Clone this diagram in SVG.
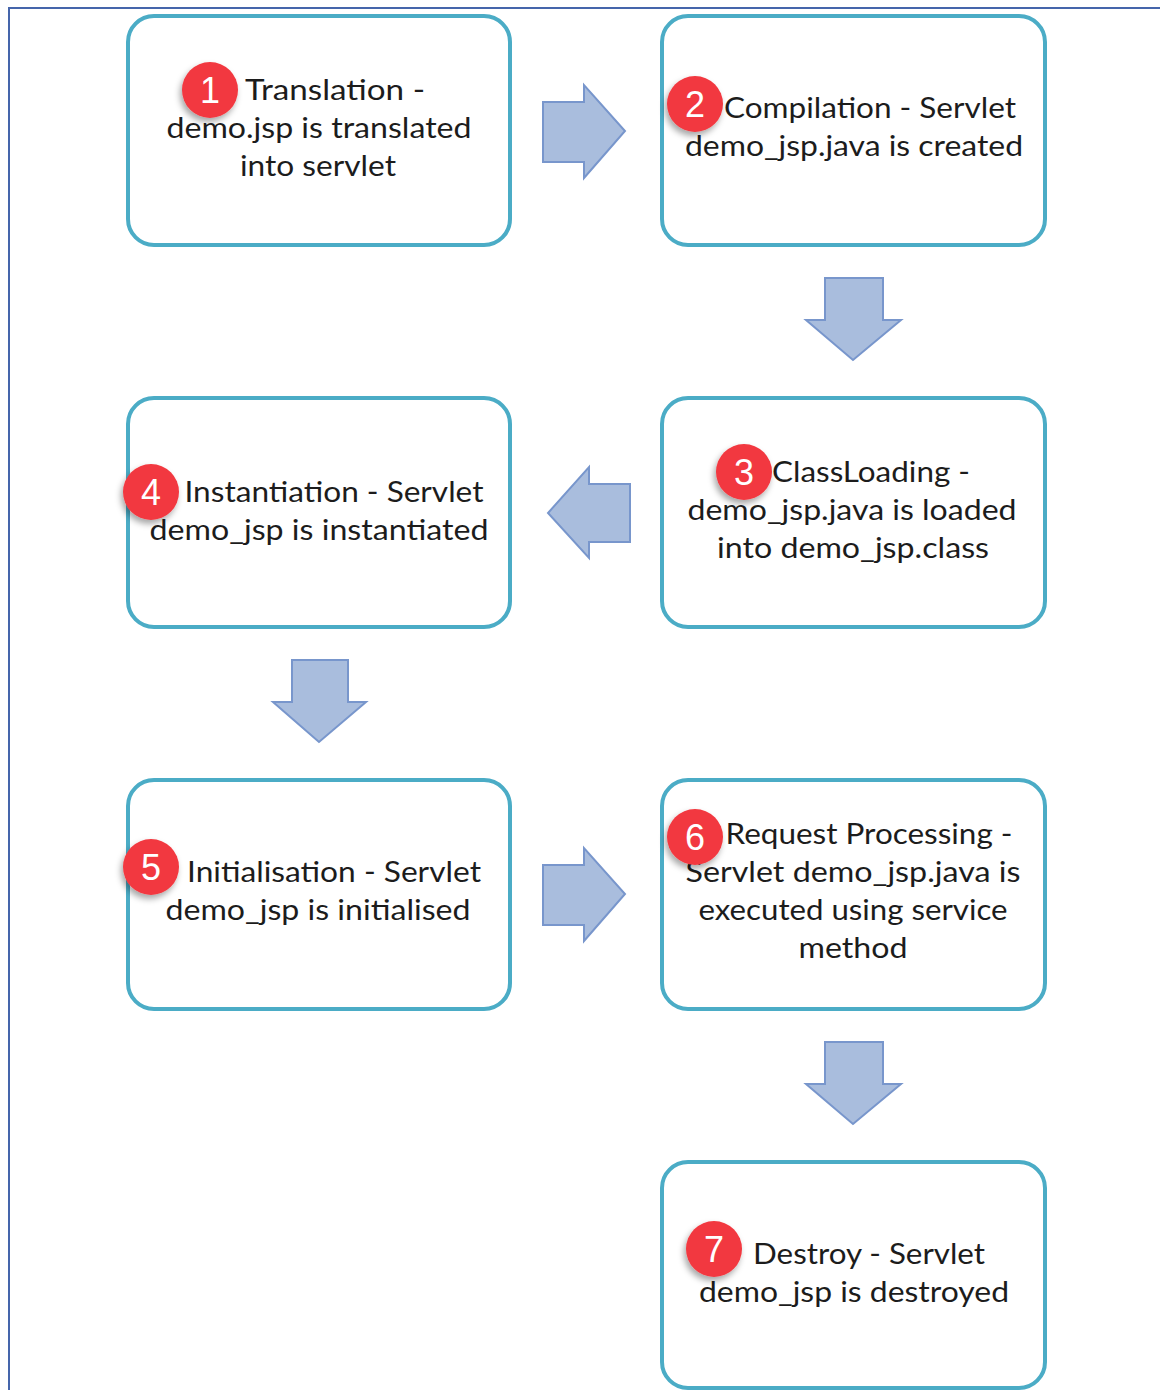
<svg xmlns="http://www.w3.org/2000/svg" width="1160" height="1390" viewBox="0 0 1160 1390">
<defs>
<style>
.box{fill:#ffffff;stroke:#4bacc6;stroke-width:4}
.arr{fill:#a9bddd;stroke:#7896cc;stroke-width:2;stroke-linejoin:miter}
.t{font-family:Lato,"Liberation Sans",sans-serif;font-size:29px;fill:#1c1c1c;text-anchor:middle}
.bc{fill:#f2383f}
.bn{font-family:"Liberation Sans",Arial,sans-serif;font-size:36px;fill:#ffffff;text-anchor:middle}
</style>
<filter id="sh" x="-50%" y="-50%" width="200%" height="200%">
<feDropShadow dx="-2" dy="4" stdDeviation="3" flood-color="#000" flood-opacity="0.35"/>
</filter>
</defs>
<rect width="1160" height="1390" fill="#ffffff"/>
<path d="M9 1390 V8 H1160" fill="none" stroke="#4565ab" stroke-width="2"/>

<g id="connectors">
<path class="arr" d="M543 102 H584 V85 L625 131 L584 178 V162 H543 Z"/>
<path class="arr" d="M825 278 H883 V320 H901 L853 360 L806 320 H825 Z"/>
<path class="arr" d="M630 484 H589 V467 L548 513 L589 558 V542 H630 Z"/>
<path class="arr" d="M292 660 H348 V702 H366 L319 742 L273 702 H292 Z"/>
<path class="arr" d="M543 865 H584 V848 L625 894 L584 941 V925 H543 Z"/>
<path class="arr" d="M825 1042 H883 V1084 H901 L853 1124 L806 1084 H825 Z"/>
</g>

<g id="node1">
<rect class="box" x="128" y="16" width="382" height="229" rx="26"/>
<text class="t" x="335" y="100" textLength="180" lengthAdjust="spacingAndGlyphs">Translation  -</text>
<text class="t" x="319" y="138" textLength="305" lengthAdjust="spacingAndGlyphs">demo.jsp is translated</text>
<text class="t" x="318" y="176" textLength="156" lengthAdjust="spacingAndGlyphs">into servlet</text>
<circle class="bc" cx="210" cy="90" r="28" filter="url(#sh)"/>
<text class="bn" x="210" y="103">1</text>
</g>

<g id="node2">
<rect class="box" x="662" y="16" width="383" height="229" rx="26"/>
<text class="t" x="870" y="118" textLength="292" lengthAdjust="spacingAndGlyphs">Compilation - Servlet</text>
<text class="t" x="854" y="156" textLength="338" lengthAdjust="spacingAndGlyphs">demo_jsp.java is created</text>
<circle class="bc" cx="695" cy="104" r="28" filter="url(#sh)"/>
<text class="bn" x="695" y="117">2</text>
</g>

<g id="node3">
<rect class="box" x="662" y="398" width="383" height="229" rx="26"/>
<text class="t" x="871" y="482" textLength="198" lengthAdjust="spacingAndGlyphs">ClassLoading -</text>
<text class="t" x="852" y="520" textLength="329" lengthAdjust="spacingAndGlyphs">demo_jsp.java is loaded</text>
<text class="t" x="853" y="558" textLength="272" lengthAdjust="spacingAndGlyphs">into demo_jsp.class</text>
<circle class="bc" cx="744" cy="472" r="28" filter="url(#sh)"/>
<text class="bn" x="744" y="485">3</text>
</g>

<g id="node4">
<rect class="box" x="128" y="398" width="382" height="229" rx="26"/>
<text class="t" x="334" y="502" textLength="299" lengthAdjust="spacingAndGlyphs">Instantiation - Servlet</text>
<text class="t" x="319" y="540" textLength="339" lengthAdjust="spacingAndGlyphs">demo_jsp is instantiated</text>
<circle class="bc" cx="151" cy="492" r="28" filter="url(#sh)"/>
<text class="bn" x="151" y="505">4</text>
</g>

<g id="node5">
<rect class="box" x="128" y="780" width="382" height="229" rx="26"/>
<text class="t" x="334" y="882" textLength="294" lengthAdjust="spacingAndGlyphs">Initialisation - Servlet</text>
<text class="t" x="318" y="920" textLength="305" lengthAdjust="spacingAndGlyphs">demo_jsp is initialised</text>
<circle class="bc" cx="151" cy="867" r="28" filter="url(#sh)"/>
<text class="bn" x="151" y="880">5</text>
</g>

<g id="node6">
<rect class="box" x="662" y="780" width="383" height="229" rx="26"/>
<text class="t" x="869" y="844" textLength="287" lengthAdjust="spacingAndGlyphs">Request Processing -</text>
<text class="t" x="853" y="882" textLength="335" lengthAdjust="spacingAndGlyphs">Servlet demo_jsp.java is</text>
<text class="t" x="853" y="920" textLength="309" lengthAdjust="spacingAndGlyphs">executed using service</text>
<text class="t" x="853" y="958" textLength="109" lengthAdjust="spacingAndGlyphs">method</text>
<circle class="bc" cx="695" cy="837" r="28" filter="url(#sh)"/>
<text class="bn" x="695" y="850">6</text>
</g>

<g id="node7">
<rect class="box" x="662" y="1162" width="383" height="226" rx="26"/>
<text class="t" x="869" y="1264" textLength="232" lengthAdjust="spacingAndGlyphs">Destroy - Servlet</text>
<text class="t" x="854" y="1302" textLength="310" lengthAdjust="spacingAndGlyphs">demo_jsp is destroyed</text>
<circle class="bc" cx="714" cy="1249" r="28" filter="url(#sh)"/>
<text class="bn" x="714" y="1262">7</text>
</g>
</svg>
